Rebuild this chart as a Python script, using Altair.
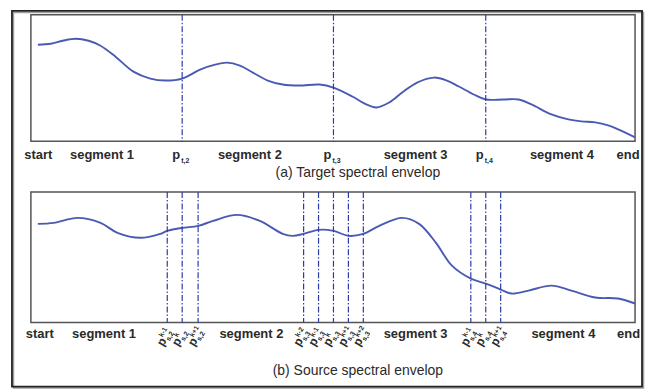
import altair as alt
import pandas as pd

# ---- data (x in frequency-bin units, y = envelope level) ----
ta_x = [7, 20, 32, 45, 58, 70, 85, 103, 120, 135, 152, 170, 185, 197, 210, 223, 238, 253, 270, 290, 304,
        323, 335, 347, 360, 373, 388, 405, 418, 430, 445, 457, 475, 490, 503, 523, 540, 553, 567, 580, 590, 607]
ta_y = [97, 98, 101, 103, 101, 96, 85, 70, 63, 61, 63, 72, 77, 79, 76, 69, 61, 57, 56, 57, 54,
        45, 38, 34, 39, 49, 59, 64, 61, 55, 47, 42, 42, 42, 37, 27, 22, 20, 19, 16, 12, 4]

sb_x = [7, 23, 47, 70, 87, 110, 130, 137, 152, 168, 183, 207, 230, 253, 263, 274, 289, 304, 319, 334,
        350, 373, 390, 407, 423, 442, 457, 472, 483, 500, 523, 543, 567, 590, 607]
sb_y = [99, 100, 105, 100, 90, 85, 89, 92, 95, 97, 102, 108, 102, 89, 87, 89, 93, 92, 87, 89,
        97, 105, 99, 80, 57, 44, 39, 33, 29, 32, 37, 32, 25, 24, 19]

ta_marks = [152, 304, 457]
ta_mark_sub = ["t,2", "t,3", "t,4"]

sb_marks = [137, 152, 168, 274, 289, 304, 319, 334, 442, 457, 472]
sb_mark_sub = ["s,2", "s,2", "s,2", "s,3", "s,3", "s,3", "s,3", "s,3", "s,4", "s,4", "s,4"]
sb_mark_sup = ["k-1", "k", "k+1", "k-2", "k-1", "k", "k+1", "k+2", "k-1", "k", "k+1"]

seg_labels = ["start", "segment 1", "segment 2", "segment 3", "segment 4", "end"]
seg_x_a = [7.5, 71.5, 220, 386.5, 533.5, 600]
seg_x_b = [9, 73.5, 221.5, 386.5, 535, 600.5]

title_a = "(a) Target spectral envelop"
title_b = "(b) Source spectral envelop"

W = 607
HA = 127
HB = 131
CURVE = "#4a5ab2"
RULE = "#2b3ca8"
TXT = "#2a2a2a"
FONT = "Liberation Sans"

xs = alt.Scale(domain=[0, W], nice=False, zero=False)


def panel(cx, cy, marks, hgt, seg_x, title, label_y, title_y):
    curve = pd.DataFrame({"x": cx, "y": cy})
    ys = alt.Scale(domain=[0, hgt], nice=False, zero=False)
    base_line = alt.Chart(curve).mark_line(
        color=CURVE, strokeWidth=1.9, interpolate="catmull-rom"
    ).encode(x=alt.X("x:Q", scale=xs, axis=None), y=alt.Y("y:Q", scale=ys, axis=None))
    rules = alt.Chart(pd.DataFrame({"x": marks})).mark_rule(
        color=RULE, strokeWidth=1.2, strokeDash=[6, 2, 1.5, 2]
    ).encode(x=alt.X("x:Q", scale=xs, axis=None))
    seg = alt.Chart(pd.DataFrame({"x": seg_x, "t": seg_labels})).mark_text(
        font=FONT, fontSize=13, fontWeight="bold", color=TXT, align="center", baseline="alphabetic"
    ).encode(x=alt.X("x:Q", scale=xs, axis=None), y=alt.value(label_y), text="t:N")
    ttl = alt.Chart(pd.DataFrame({"x": [W / 2 + 25], "t": [title]})).mark_text(
        font=FONT, fontSize=14, color=TXT, align="center", baseline="alphabetic"
    ).encode(x=alt.X("x:Q", scale=xs, axis=None), y=alt.value(title_y), text="t:N")
    return [base_line, rules, seg, ttl]


# ---- panel (a) ----
la = panel(ta_x, ta_y, ta_marks, HA, seg_x_a, title_a, 145, 163)
pa_df = pd.DataFrame({"x": ta_marks, "sub": ta_mark_sub, "p": ["p"] * 3})
p_main = alt.Chart(pa_df).mark_text(
    font=FONT, fontSize=13, fontWeight="bold", color=TXT, align="right", baseline="alphabetic", dx=-2
).encode(x=alt.X("x:Q", scale=xs, axis=None), y=alt.value(145), text="p:N")
p_sub = alt.Chart(pa_df).mark_text(
    font=FONT, fontSize=7, fontWeight="bold", color=TXT, align="left", baseline="alphabetic", dx=-1
).encode(x=alt.X("x:Q", scale=xs, axis=None), y=alt.value(149), text="sub:N")

frame_df = pd.DataFrame({"k": [0]})
shadow = alt.Chart(frame_df).mark_rect(filled=False, stroke="#a0a0a0", strokeWidth=1.5).encode(
    x=alt.value(-17.5), x2=alt.value(615.5), y=alt.value(-2.5), y2=alt.value(375)
)
frame = alt.Chart(frame_df).mark_rect(filled=False, stroke="#222222", strokeWidth=1.8).encode(
    x=alt.value(-19), x2=alt.value(614), y=alt.value(-4), y2=alt.value(373.5)
)

chart_a = alt.layer(shadow, frame, *la, p_main, p_sub).properties(width=W, height=HA)

# ---- panel (b) ----
lb = panel(sb_x, sb_y, sb_marks, HB, seg_x_b, title_b, 147, 184)
pb_df = pd.DataFrame({"x": sb_marks, "sub": sb_mark_sub, "sup": sb_mark_sup, "p": ["p"] * len(sb_marks)})
ANG = 300
rp = alt.Chart(pb_df).mark_text(
    font=FONT, fontSize=12, fontWeight="bold", color=TXT, align="right", baseline="alphabetic", angle=ANG, dx=-0.5
).encode(x=alt.X("x:Q", scale=xs, axis=None), y=alt.value(149), text="p:N")
rsub = alt.Chart(pb_df).mark_text(
    font=FONT, fontSize=7, fontWeight="bold", color=TXT, align="left", baseline="alphabetic", angle=ANG, dy=2.5
).encode(x=alt.X("x:Q", scale=xs, axis=None), y=alt.value(149), text="sub:N")
rsup = alt.Chart(pb_df).mark_text(
    font=FONT, fontSize=7, fontWeight="bold", color=TXT, align="left", baseline="alphabetic", angle=ANG, dy=-5.5
).encode(x=alt.X("x:Q", scale=xs, axis=None), y=alt.value(149), text="sup:N")

chart_b = alt.layer(*lb, rp, rsub, rsup).properties(width=W, height=HB)

chart = alt.vconcat(chart_a, chart_b, spacing=51).properties(
    bounds="flush",
    padding={"left": 2, "top": 0, "right": 0, "bottom": 0},
    background="white",
).configure_view(stroke="#555555", strokeWidth=1.5)

chart.save("out.html", embed_options={"renderer": "svg", "actions": False})
